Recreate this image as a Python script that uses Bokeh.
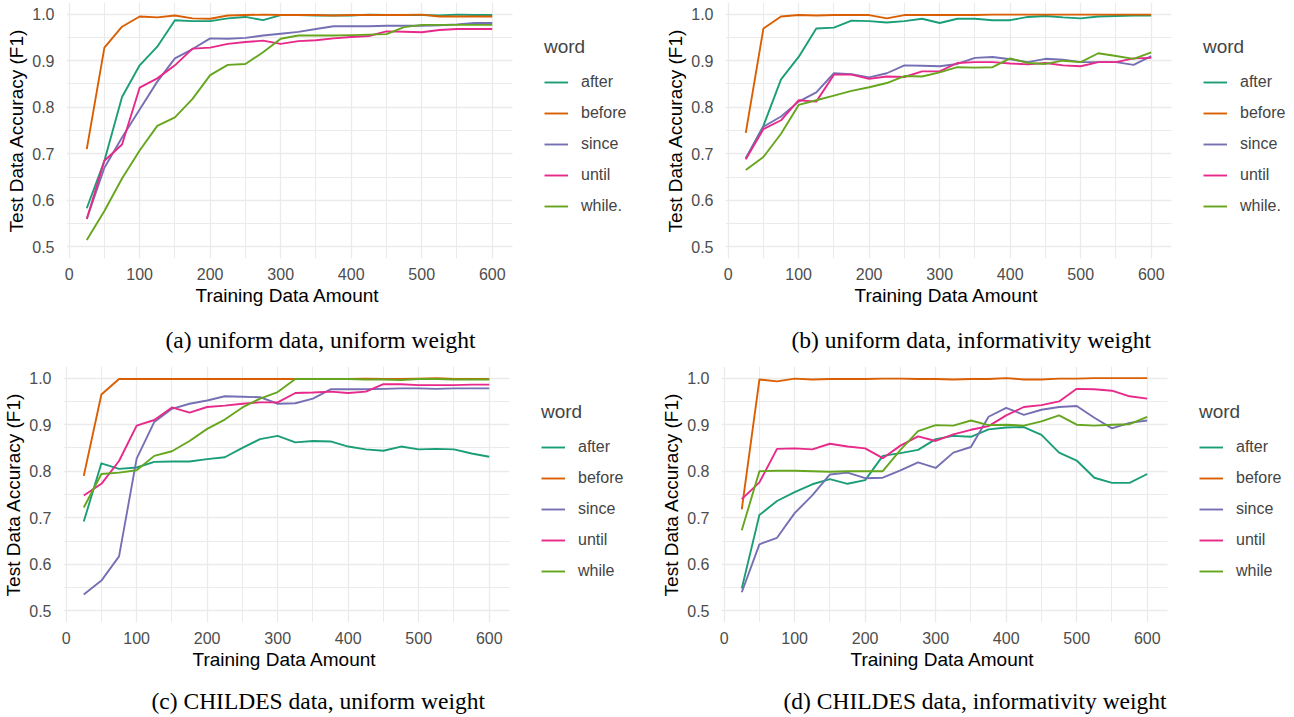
from bokeh.plotting import figure
from bokeh.layouts import column, row
from bokeh.models import (Range1d, SingleIntervalTicker, FixedTicker, PrintfTickFormatter,
                          Legend, LegendItem, Title, BoxAnnotation)
from bokeh.embed import file_html
from bokeh.resources import INLINE

x_amount = [25, 50, 75, 100, 125, 150, 175, 200, 225, 250, 275, 300,
            325, 350, 375, 400, 425, 450, 475, 500, 525, 550, 575, 600]

x_ticks = [0, 100, 200, 300, 400, 500, 600]
x_minor = [50, 150, 250, 350, 450, 550]

words = ["after", "before", "since", "until", "while"]
colors = ["#1B9E77", "#D95F02", "#7570B3", "#E7298A", "#66A61E"]

# (a) uniform data, uniform weight
a_after  = [0.583, 0.685, 0.822, 0.890, 0.930, 0.987, 0.985, 0.985, 0.991, 0.994, 0.987, 0.998,
            0.998, 0.997, 0.997, 0.997, 0.999, 0.998, 0.998, 0.998, 0.997, 0.999, 0.998, 0.998]
a_before = [0.710, 0.928, 0.973, 0.995, 0.993, 0.997, 0.991, 0.990, 0.997, 0.998, 0.999, 0.998,
            0.998, 0.998, 0.997, 0.998, 0.998, 0.998, 0.998, 0.999, 0.995, 0.995, 0.995, 0.995]
a_since  = [0.560, 0.670, 0.735, 0.795, 0.855, 0.905, 0.925, 0.948, 0.947, 0.949, 0.954, 0.958,
            0.962, 0.968, 0.974, 0.974, 0.974, 0.975, 0.975, 0.975, 0.976, 0.978, 0.981, 0.981]
a_until  = [0.560, 0.685, 0.720, 0.842, 0.862, 0.890, 0.926, 0.928, 0.936, 0.940, 0.943, 0.936,
            0.942, 0.944, 0.948, 0.951, 0.953, 0.963, 0.962, 0.961, 0.966, 0.968, 0.968, 0.968]
a_while  = [0.515, 0.577, 0.647, 0.707, 0.760, 0.778, 0.818, 0.869, 0.891, 0.893, 0.918, 0.947,
            0.954, 0.954, 0.954, 0.955, 0.956, 0.957, 0.972, 0.977, 0.977, 0.977, 0.977, 0.977]

# (b) uniform data, informativity weight
b_after  = [0.690, 0.760, 0.860, 0.908, 0.969, 0.971, 0.986, 0.985, 0.982, 0.985, 0.990, 0.981,
            0.990, 0.990, 0.987, 0.987, 0.994, 0.996, 0.993, 0.991, 0.995, 0.996, 0.997, 0.997]
b_before = [0.745, 0.969, 0.995, 0.998, 0.997, 0.998, 0.998, 0.998, 0.991, 0.998, 0.998, 0.998,
            0.998, 0.998, 0.999, 0.999, 0.999, 0.999, 0.999, 0.999, 0.999, 0.999, 0.999, 0.999]
b_since  = [0.690, 0.758, 0.780, 0.812, 0.832, 0.873, 0.871, 0.864, 0.873, 0.890, 0.889, 0.888,
            0.893, 0.906, 0.908, 0.903, 0.897, 0.904, 0.902, 0.897, 0.897, 0.897, 0.891, 0.910]
b_until  = [0.688, 0.753, 0.772, 0.815, 0.812, 0.870, 0.870, 0.861, 0.866, 0.865, 0.877, 0.877,
            0.895, 0.897, 0.897, 0.894, 0.892, 0.895, 0.890, 0.888, 0.897, 0.897, 0.905, 0.906]
b_while  = [0.665, 0.693, 0.743, 0.805, 0.815, 0.825, 0.835, 0.843, 0.852, 0.867, 0.866, 0.875,
            0.886, 0.885, 0.886, 0.905, 0.895, 0.893, 0.900, 0.897, 0.916, 0.910, 0.904, 0.918]

# (c) CHILDES data, uniform weight
c_after  = [0.692, 0.817, 0.805, 0.808, 0.820, 0.821, 0.821, 0.826, 0.830, 0.850, 0.869, 0.876,
            0.862, 0.865, 0.864, 0.853, 0.847, 0.844, 0.853, 0.847, 0.848, 0.847, 0.838, 0.831]
c_before = [0.790, 0.965, 0.998, 0.998, 0.998, 0.998, 0.998, 0.998, 0.998, 0.998, 0.998, 0.998,
            0.998, 0.998, 0.998, 0.998, 0.999, 0.998, 0.998, 0.999, 1.000, 0.998, 0.998, 0.998]
c_since  = [0.535, 0.565, 0.617, 0.827, 0.906, 0.934, 0.945, 0.952, 0.961, 0.960, 0.959, 0.945,
            0.946, 0.956, 0.976, 0.976, 0.976, 0.977, 0.978, 0.978, 0.977, 0.978, 0.978, 0.978]
c_until  = [0.748, 0.773, 0.822, 0.898, 0.910, 0.937, 0.926, 0.938, 0.941, 0.945, 0.948, 0.948,
            0.968, 0.969, 0.971, 0.968, 0.971, 0.987, 0.987, 0.985, 0.985, 0.985, 0.986, 0.986]
c_while  = [0.722, 0.794, 0.797, 0.802, 0.833, 0.843, 0.865, 0.891, 0.911, 0.937, 0.956, 0.970,
            0.998, 0.998, 0.998, 0.998, 0.997, 0.997, 0.996, 0.998, 0.998, 0.997, 0.997, 0.997]

# (d) CHILDES data, informativity weight
d_after  = [0.548, 0.706, 0.736, 0.755, 0.772, 0.783, 0.773, 0.781, 0.833, 0.839, 0.846, 0.869,
            0.876, 0.874, 0.890, 0.894, 0.895, 0.878, 0.840, 0.823, 0.786, 0.775, 0.775, 0.794]
d_before = [0.718, 0.997, 0.993, 0.999, 0.997, 0.998, 0.998, 0.998, 0.999, 0.999, 0.998, 0.998,
            0.997, 0.998, 0.998, 1.000, 0.997, 0.997, 0.999, 0.999, 1.000, 1.000, 1.000, 1.000]
d_since  = [0.540, 0.643, 0.657, 0.710, 0.748, 0.793, 0.797, 0.785, 0.786, 0.802, 0.819, 0.807,
            0.840, 0.852, 0.917, 0.936, 0.921, 0.932, 0.938, 0.940, 0.915, 0.892, 0.904, 0.909]
d_until  = [0.740, 0.776, 0.848, 0.849, 0.847, 0.859, 0.853, 0.849, 0.828, 0.855, 0.875, 0.865,
            0.879, 0.889, 0.897, 0.920, 0.938, 0.942, 0.950, 0.977, 0.976, 0.973, 0.961, 0.956]
d_while  = [0.673, 0.800, 0.801, 0.801, 0.800, 0.799, 0.800, 0.800, 0.800, 0.846, 0.886, 0.899,
            0.898, 0.909, 0.899, 0.900, 0.898, 0.907, 0.920, 0.900, 0.898, 0.900, 0.901, 0.917]

captions = ["(a) uniform data, uniform weight",
            "(b) uniform data, informativity weight",
            "(c) CHILDES data, uniform weight",
            "(d) CHILDES data, informativity weight"]

legend_labels_top = ["after", "before", "since", "until", "while."]
legend_labels_bottom = ["after", "before", "since", "until", "while"]

SANS = "Liberation Sans"
FIG_W = 645
X_START, X_END = -3.75, 628.75
DATA_W = 446  # pixel width of the data part of each panel


def make_panel(series, caption, labels, left, top, frame_h, bottom,
               cap_offset, xlab_offset, spacer, height, leg_dy):
    frame_w = FIG_W - left
    x_end_ext = X_START + frame_w * (X_END - X_START) / DATA_W
    p = figure(width=FIG_W, height=height, output_backend="svg", toolbar_location=None,
               x_range=Range1d(X_START, x_end_ext), y_range=Range1d(0.475, 1.025),
               min_border_left=left, min_border_right=0,
               min_border_top=top, min_border_bottom=bottom)
    p.outline_line_color = None
    p.background_fill_color = "white"
    p.border_fill_color = "white"

    p.xaxis.ticker = FixedTicker(ticks=x_ticks, minor_ticks=x_minor)
    p.yaxis.ticker = SingleIntervalTicker(interval=0.1, num_minor_ticks=2)
    p.yaxis.formatter = PrintfTickFormatter(format="%.1f")
    for ax in (p.xaxis, p.yaxis):
        ax.axis_line_color = None
        ax.major_tick_line_color = None
        ax.minor_tick_line_color = None
        ax.major_label_text_font = SANS
        ax.major_label_text_font_size = "16px"
        ax.major_label_text_color = "#4D4D4D"
        ax.axis_label_text_font = SANS
        ax.axis_label_text_font_size = "19px"
        ax.axis_label_text_font_style = "normal"
        ax.axis_label_text_color = "black"
    p.yaxis.axis_label = "Test Data Accuracy (F1)"
    p.xaxis.major_label_standoff = 3
    p.yaxis.major_label_standoff = 6
    p.yaxis.axis_label_standoff = 2

    for g in (p.xgrid, p.ygrid):
        g.grid_line_color = "#EBEBEB"
        g.grid_line_width = 1.3
        g.minor_grid_line_color = "#EBEBEB"
        g.minor_grid_line_width = 1.0

    items = []
    for vals, col, lab in zip(series, colors, labels):
        r = p.line(x_amount, vals, line_color=col, line_width=1.9, line_join="round")
        items.append(LegendItem(label=lab, renderers=[r]))

    # blank out the grid to the right of the data panel (legend area)
    p.add_layout(BoxAnnotation(left=X_END, fill_color="white", fill_alpha=1.0,
                               line_color=None))

    leg = Legend(items=items, title="word", location=(DATA_W + 32, frame_h - 220 + leg_dy),
                 border_line_color=None, background_fill_alpha=0,
                 label_text_font=SANS, label_text_font_size="16px",
                 title_text_font=SANS, title_text_font_size="19px",
                 title_text_font_style="normal",
                 glyph_width=24, glyph_height=20, label_height=20,
                 spacing=11, label_standoff=13, padding=6, margin=0,
                 title_standoff=14)
    p.add_layout(leg, "center")

    # x-axis title, centred on the data panel
    p.add_layout(Title(text="Training Data Amount", text_font=SANS, text_font_size="19px",
                       text_font_style="normal", text_color="black", align="left",
                       offset=xlab_offset, standoff=1), "below")
    p.add_layout(Title(text=" ", text_font_size="1px", standoff=spacer), "below")
    p.add_layout(Title(text=caption, text_font="Liberation Serif", text_font_size="23.5px",
                       text_font_style="normal", text_color="black", align="left",
                       offset=cap_offset, standoff=4), "below")
    return p


pa = make_panel([a_after, a_before, a_since, a_until, a_while], captions[0],
                legend_labels_top, 66, 2, 256, 98, 99, 129, 13.3, 356, 6)
pb = make_panel([b_after, b_before, b_since, b_until, b_while], captions[1],
                legend_labels_top, 80, 2, 256, 98, 66, 129, 13.3, 356, 6)
pc = make_panel([c_after, c_before, c_since, c_until, c_while], captions[2],
                legend_labels_bottom, 63, 10, 256, 94, 88, 129, 9.5, 360, 5)
pd = make_panel([d_after, d_before, d_since, d_until, d_while], captions[3],
                legend_labels_bottom, 76, 10, 256, 94, 62, 129, 9.5, 360, 5)

layout = column(row(pa, pb), row(pc, pd))

open("out.html", "w").write(file_html(layout, INLINE))
